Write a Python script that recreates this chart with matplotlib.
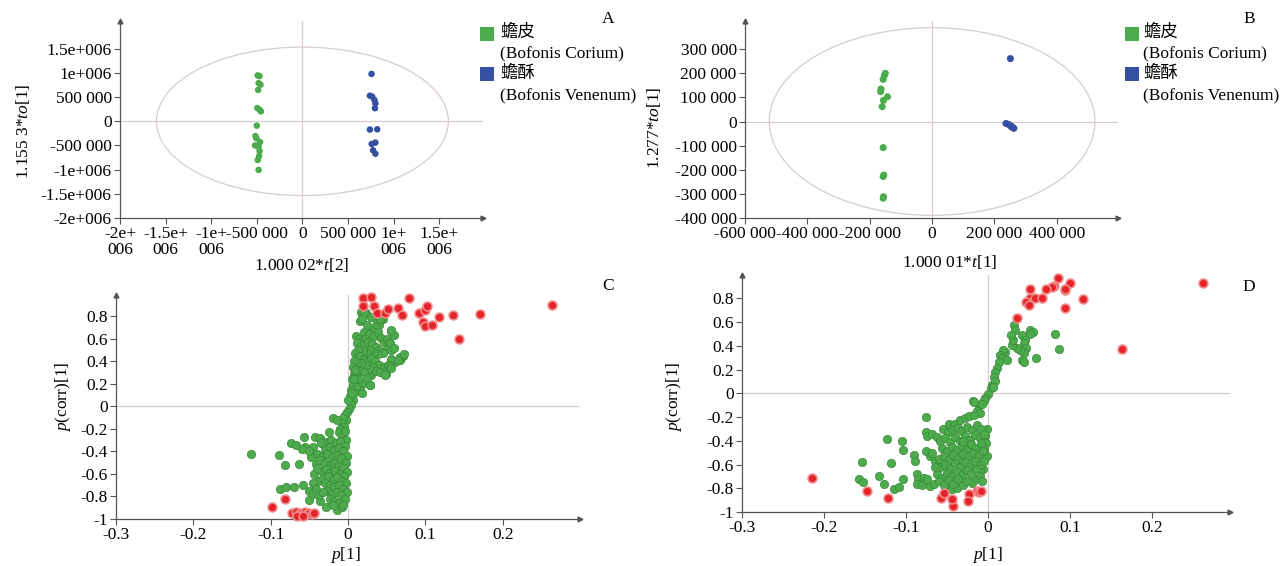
import matplotlib
matplotlib.use('Agg')
import matplotlib.pyplot as plt
from matplotlib.patches import Ellipse, Rectangle

plt.rcParams['font.family'] = ['Liberation Serif', 'Noto Sans CJK SC']
plt.rcParams['mathtext.fontset'] = 'custom'
plt.rcParams['mathtext.rm'] = 'Liberation Serif'
plt.rcParams['mathtext.it'] = 'Liberation Serif:italic'
plt.rcParams['font.size'] = 12.5

# --- DATA ---
# A: OPLS-DA score plot (t[2] vs to[1])
a_green_x = [-490000, -470000, -480000, -460000, -485000, -495000, -470000, -455000, -500000,
             -515000, -505000, -465000, -520000, -480000, -470000, -475000, -490000, -480000]
a_green_y = [950000, 935000, 790000, 760000, 650000, 275000, 240000, 205000, -90000,
             -305000, -350000, -430000, -500000, -525000, -615000, -720000, -800000, -1005000]
a_blue_x = [758000, 740000, 765000, 790000, 800000, 795000, 740000, 820000, 760000, 800000, 775000, 800000]
a_blue_y = [980000, 530000, 510000, 440000, 370000, 270000, -170000, -165000, -470000, -440000, -600000, -670000]

# B: score plot (t[1] vs to[1])
b_green_x = [-150000, -153000, -157000, -164000, -165000, -143000, -156000, -160000,
             -157000, -155000, -157000, -156000, -157000]
b_green_y = [200000, 192000, 175000, 135000, 124000, 103000, 88000, 62000,
             -108000, -222000, -228000, -312000, -318000]
b_blue_x = [251000, 237000, 245000, 252000, 258000, 262000, 255000]
b_blue_y = [261000, -8000, -12000, -18000, -24000, -28000, -22000]

# C: S-plot, p[1] vs p(corr)[1]
c_green = [
    (0.017, 0.84), (0.018, 0.82), (0.015, 0.76), (0.023, 0.83), (0.029, 0.79), (0.037, 0.75),
    (0.042, 0.78), (0.040, 0.72), (0.045, 0.77), (0.035, 0.70), (0.030, 0.68), (0.025, 0.72),
    (0.020, 0.66), (0.027, 0.64), (0.033, 0.62), (0.038, 0.66), (0.043, 0.61), (0.046, 0.57),
    (0.050, 0.60), (0.056, 0.67), (0.059, 0.63), (0.053, 0.56), (0.050, 0.51), (0.056, 0.50),
    (0.071, 0.45), (0.067, 0.41), (0.061, 0.39), (0.056, 0.42), (0.042, 0.30), (0.049, 0.29),
    (0.029, 0.28), (0.028, 0.19), (0.018, 0.20), (0.015, 0.14),
    (0.010, 0.62), (0.014, 0.60), (0.018, 0.58), (0.022, 0.60), (0.012, 0.56), (0.016, 0.53),
    (0.021, 0.55), (0.026, 0.57), (0.031, 0.55), (0.036, 0.53), (0.040, 0.50), (0.045, 0.47),
    (0.038, 0.46), (0.033, 0.48), (0.028, 0.50), (0.024, 0.47), (0.019, 0.49), (0.013, 0.50),
    (0.009, 0.47), (0.011, 0.43), (0.015, 0.45), (0.020, 0.42), (0.025, 0.40), (0.030, 0.43),
    (0.035, 0.40), (0.040, 0.37), (0.046, 0.35), (0.052, 0.37), (0.032, 0.35), (0.027, 0.33),
    (0.022, 0.36), (0.017, 0.38), (0.012, 0.38), (0.008, 0.40), (0.006, 0.35), (0.010, 0.33),
    (0.015, 0.31), (0.020, 0.30), (0.036, 0.31), (0.024, 0.25), (0.011, 0.27), (0.007, 0.29),
    (0.005, 0.24), (0.009, 0.22), (0.013, 0.24), (0.006, 0.19), (0.010, 0.17), (0.004, 0.14),
    (0.008, 0.12), (0.003, 0.09), (0.006, 0.06), (0.002, 0.04), (0.004, 0.01), (0.001, -0.02),
    (0.020, 0.84), (0.018, 0.77), (0.041, 0.77), (0.056, 0.68), (0.054, 0.56), (0.059, 0.52),
    (0.067, 0.44), (0.072, 0.46), (0.065, 0.41), (0.054, 0.36), (0.056, 0.34), (0.041, 0.30),
    (0.048, 0.28), (0.028, 0.19), (0.018, 0.12), (0.007, 0.24), (0.005, 0.12), (0.000, 0.06),
    (0.009, 0.32),
    (-0.002, -0.05), (-0.004, -0.08), (-0.003, -0.12), (-0.006, -0.10), (-0.008, -0.15),
    (-0.005, -0.18), (-0.010, -0.20), (-0.019, -0.10), (-0.015, -0.12), (-0.012, -0.23),
    (-0.008, -0.26), (-0.004, -0.22), (-0.003, -0.30), (-0.025, -0.23), (-0.043, -0.27),
    (-0.036, -0.28), (-0.057, -0.27), (-0.056, -0.36), (-0.059, -0.38), (-0.074, -0.33),
    (-0.068, -0.34), (-0.126, -0.42), (-0.089, -0.43), (-0.082, -0.52), (-0.064, -0.51),
    (-0.040, -0.42), (-0.041, -0.51), (-0.034, -0.57), (-0.039, -0.66), (-0.032, -0.64),
    (-0.088, -0.73), (-0.080, -0.72), (-0.070, -0.72), (-0.058, -0.70), (-0.050, -0.75),
    (-0.050, -0.83), (-0.036, -0.84), (-0.045, -0.78), (-0.028, -0.89), (-0.015, -0.92),
    (-0.008, -0.89),
    (-0.028, -0.32), (-0.022, -0.30), (-0.016, -0.33), (-0.010, -0.31), (-0.004, -0.35),
    (-0.030, -0.38), (-0.024, -0.36), (-0.018, -0.39), (-0.012, -0.37), (-0.006, -0.40),
    (-0.002, -0.44), (-0.033, -0.44), (-0.027, -0.42), (-0.021, -0.45), (-0.015, -0.43),
    (-0.009, -0.46), (-0.003, -0.50), (-0.036, -0.48), (-0.030, -0.50), (-0.024, -0.52),
    (-0.018, -0.50), (-0.012, -0.53), (-0.006, -0.55), (-0.002, -0.58), (-0.029, -0.56),
    (-0.023, -0.59), (-0.017, -0.57), (-0.011, -0.60), (-0.005, -0.62), (-0.026, -0.62),
    (-0.020, -0.65), (-0.014, -0.63), (-0.008, -0.66), (-0.003, -0.68), (-0.030, -0.68),
    (-0.024, -0.70), (-0.018, -0.72), (-0.012, -0.70), (-0.006, -0.73), (-0.002, -0.76),
    (-0.027, -0.75), (-0.021, -0.78), (-0.015, -0.76), (-0.009, -0.79), (-0.004, -0.82),
    (-0.024, -0.82), (-0.018, -0.84), (-0.012, -0.86), (-0.006, -0.88), (-0.020, -0.88),
    (-0.044, -0.60), (-0.046, -0.68), (-0.042, -0.73), (-0.038, -0.79), (-0.033, -0.76),
    (-0.048, -0.45), (-0.046, -0.36), (-0.050, -0.40), (-0.035, -0.33), (-0.040, -0.55),
]
c_red = [
    (0.019, 0.96), (0.029, 0.97), (0.079, 0.96), (0.019, 0.89), (0.033, 0.89), (0.037, 0.83),
    (0.048, 0.83), (0.052, 0.86), (0.064, 0.87), (0.069, 0.81), (0.092, 0.83), (0.0995, 0.85),
    (0.102, 0.89), (0.097, 0.75), (0.099, 0.71), (0.109, 0.72), (0.117, 0.79), (0.136, 0.81),
    (0.143, 0.60), (0.171, 0.82), (0.263, 0.90),
    (-0.099, -0.89), (-0.081, -0.82), (-0.072, -0.95), (-0.068, -0.94), (-0.064, -0.96),
    (-0.060, -0.95), (-0.056, -0.94), (-0.053, -0.96), (-0.050, -0.95), (-0.047, -0.96),
    (-0.044, -0.95), (-0.066, -0.97), (-0.058, -0.97),
]

# D: S-plot, p[1] vs p(corr)[1]
d_green = [
    (0.0815, 0.495), (0.0864, 0.369), (0.0587, 0.30), (0.052, 0.53), (0.055, 0.517), (0.051, 0.50),
    (0.0315, 0.573), (0.0335, 0.53), (0.0417, 0.49), (0.0457, 0.447), (0.044, 0.42), (0.047, 0.377),
    (0.044, 0.335), (0.042, 0.279), (0.044, 0.265), (0.0396, 0.363), (0.0356, 0.383), (0.0295, 0.405),
    (0.0307, 0.447), (0.028, 0.49), (0.0213, 0.349), (0.019, 0.363), (0.015, 0.32), (0.0173, 0.293),
    (0.0234, 0.279), (0.0132, 0.265), (0.0112, 0.209), (0.0092, 0.181), (0.0071, 0.139), (0.005, 0.069),
    (0.009, 0.10), (0.0034, 0.045), (0.006, 0.053), (0.0, -0.01), (-0.004, -0.04), (-0.006, -0.07),
    (-0.011, -0.095), (-0.018, -0.067), (-0.005, -0.059), (-0.0072, -0.087), (-0.0173, -0.075),
    (-0.0133, -0.151), (-0.0092, -0.165),
    (-0.153, -0.577), (-0.157, -0.725), (-0.152, -0.747), (-0.133, -0.697), (-0.127, -0.767),
    (-0.115, -0.809), (-0.108, -0.787), (-0.103, -0.72), (-0.118, -0.585), (-0.123, -0.389),
    (-0.105, -0.403), (-0.103, -0.481), (-0.0905, -0.523), (-0.0885, -0.571), (-0.0864, -0.683),
    (-0.0856, -0.725), (-0.0864, -0.767), (-0.075, -0.199), (-0.075, -0.327), (-0.0742, -0.361),
    (-0.068, -0.347), (-0.062, -0.367), (-0.075, -0.487), (-0.0702, -0.529), (-0.064, -0.571),
    (-0.0783, -0.711), (-0.0803, -0.775), (-0.070, -0.781), (-0.0742, -0.725), (-0.048, -0.263),
    (-0.044, -0.291), (-0.040, -0.263), (-0.0336, -0.221), (-0.0275, -0.207), (-0.0234, -0.193),
    (-0.0173, -0.179), (-0.001, -0.305), (-0.003, -0.361), (-0.0019, -0.417), (-0.005, -0.473),
    (-0.001, -0.529), (-0.006, -0.641), (-0.0092, -0.655), (-0.0498, -0.809), (-0.044, -0.803),
    (-0.038, -0.795), (-0.030, -0.775), (-0.0193, -0.753), (-0.0133, -0.725),
    (-0.055, -0.30), (-0.049, -0.33), (-0.043, -0.31), (-0.037, -0.29), (-0.031, -0.32),
    (-0.025, -0.28), (-0.019, -0.31), (-0.013, -0.27), (-0.008, -0.30), (-0.058, -0.40),
    (-0.052, -0.38), (-0.046, -0.41), (-0.040, -0.37), (-0.034, -0.40), (-0.028, -0.36),
    (-0.022, -0.39), (-0.016, -0.35), (-0.010, -0.38), (-0.005, -0.34), (-0.056, -0.46),
    (-0.050, -0.49), (-0.044, -0.45), (-0.038, -0.48), (-0.032, -0.44), (-0.026, -0.47),
    (-0.020, -0.43), (-0.014, -0.46), (-0.008, -0.42), (-0.060, -0.55), (-0.054, -0.53),
    (-0.048, -0.56), (-0.042, -0.52), (-0.036, -0.55), (-0.030, -0.51), (-0.024, -0.54),
    (-0.018, -0.50), (-0.012, -0.53), (-0.006, -0.49), (-0.058, -0.62), (-0.052, -0.60),
    (-0.046, -0.63), (-0.040, -0.59), (-0.034, -0.62), (-0.028, -0.58), (-0.022, -0.61),
    (-0.016, -0.57), (-0.010, -0.60), (-0.005, -0.57), (-0.062, -0.68), (-0.056, -0.71),
    (-0.050, -0.67), (-0.044, -0.70), (-0.038, -0.66), (-0.032, -0.69), (-0.026, -0.65),
    (-0.020, -0.68), (-0.014, -0.64), (-0.066, -0.76), (-0.060, -0.74), (-0.054, -0.77),
    (-0.048, -0.73), (-0.042, -0.76), (-0.036, -0.72), (-0.025, -0.74), (-0.009, -0.70),
    (-0.007, -0.74), (-0.064, -0.62), (-0.068, -0.50), (-0.030, -0.40),
]
d_red = [
    (0.263, 0.93), (0.164, 0.37), (0.1165, 0.79), (0.094, 0.72), (0.094, 0.87), (0.100, 0.93),
    (0.086, 0.97), (0.081, 0.90), (0.078, 0.895), (0.071, 0.88), (0.051, 0.875), (0.0945, 0.875),
    (0.052, 0.80), (0.046, 0.77), (0.050, 0.74), (0.058, 0.80), (0.066, 0.80), (0.0356, 0.635),
    (-0.215, -0.71), (-0.148, -0.82), (-0.122, -0.88), (-0.057, -0.88), (-0.054, -0.84),
    (-0.043, -0.95), (-0.044, -0.89), (-0.023, -0.85), (-0.024, -0.91), (-0.0136, -0.82),
    (-0.011, -0.83), (-0.008, -0.82),
]

# tick labels
a_xticks = [-2e6, -1.5e6, -1e6, -5e5, 0, 5e5, 1e6, 1.5e6]
a_xlabels = ['-2e+\n006', '-1.5e+\n006', '-1e+\n006', '-500 000', '0', '500 000', '1e+\n006', '1.5e+\n006']
a_yticks = [1.5e6, 1e6, 5e5, 0, -5e5, -1e6, -1.5e6, -2e6]
a_ylabels = ['1.5e+006', '1e+006', '500 000', '0', '-500 000', '-1e+006', '-1.5e+006', '-2e+006']
b_xticks = [-6e5, -4e5, -2e5, 0, 2e5, 4e5]
b_xlabels = ['-600 000', '-400 000', '-200 000', '0', '200 000', '400 000']
b_yticks = [3e5, 2e5, 1e5, 0, -1e5, -2e5, -3e5, -4e5]
b_ylabels = ['300 000', '200 000', '100 000', '0', '-100 000', '-200 000', '-300 000', '-400 000']
s_xticks = [-0.3, -0.2, -0.1, 0, 0.1, 0.2]
s_xlabels = ['-0.3', '-0.2', '-0.1', '0', '0.1', '0.2']
s_yticks = [0.8, 0.6, 0.4, 0.2, 0, -0.2, -0.4, -0.6, -0.8, -1]
s_ylabels = ['0.8', '0.6', '0.4', '0.2', '0', '-0.2', '-0.4', '-0.6', '-0.8', '-1']

GREEN = '#4cab4c'
BLUE = '#3450a3'
RED = '#e6222a'
AXC = '#555555'
GUIDE = '#d9cccc'

W, H = 1284, 566
fig = plt.figure(figsize=(W / 100, H / 100), dpi=100)


def px_axes(l, t, r, b):
    return fig.add_axes([l / W, 1 - b / H, (r - l) / W, (b - t) / H])


def ftxt(x, y, s, **kw):
    kw.setdefault('ha', 'center')
    kw.setdefault('va', 'center')
    fig.text(x / W, 1 - y / H, s, **kw)


def style(ax, xt, xl, yt, yl):
    for s in ['top', 'right']:
        ax.spines[s].set_visible(False)
    for s in ['left', 'bottom']:
        ax.spines[s].set_color(AXC)
        ax.spines[s].set_linewidth(0.9)
    ax.set_xticks(xt)
    ax.set_xticklabels(xl, linespacing=1.0)
    ax.set_yticks(yt)
    ax.set_yticklabels(yl)
    ax.tick_params(length=4, width=0.8, color=AXC, pad=2, labelsize=12.5)
    ax.plot(0, 1, '^', transform=ax.transAxes, clip_on=False, color=AXC, ms=3.5)
    ax.plot(1, 0, '>', transform=ax.transAxes, clip_on=False, color=AXC, ms=3.5)
    ax.axhline(0, color=GUIDE, lw=0.9, zorder=0)
    ax.axvline(0, color=GUIDE, lw=0.9, zorder=0)


# --- A ---
axA = px_axes(120, 21, 483, 218)
axA.set_xlim(-2e6, 1.98e6)
axA.set_ylim(-2e6, 2.075e6)
style(axA, a_xticks, a_xlabels, a_yticks, a_ylabels)
axA.add_patch(Ellipse((0, 0), 3.2e6, 3.07e6, fill=False, ec=GUIDE, lw=0.9))
axA.scatter(a_green_x, a_green_y, s=22, c=GREEN, edgecolors='none', zorder=3)
axA.scatter(a_blue_x, a_blue_y, s=22, c=BLUE, edgecolors='none', zorder=3)

# --- B ---
axB = px_axes(745, 21, 1118, 218)
axB.set_xlim(-6e5, 5.96e5)
axB.set_ylim(-4e5, 4.17e5)
style(axB, b_xticks, b_xlabels, b_yticks, b_ylabels)
axB.add_patch(Ellipse((0, 0), 1.044e6, 7.78e5, fill=False, ec=GUIDE, lw=0.9))
axB.scatter(b_green_x, b_green_y, s=26, c=GREEN, edgecolors='none', zorder=3)
axB.scatter(b_blue_x, b_blue_y, s=26, c=BLUE, edgecolors='none', zorder=3)

# --- C ---
axC = px_axes(116, 295, 580, 519)
axC.set_xlim(-0.3, 0.2997)
axC.set_ylim(-1, 0.987)
style(axC, s_xticks, s_xlabels, s_yticks, s_ylabels)
axC.scatter([p[0] for p in c_green], [p[1] for p in c_green], s=36, c=GREEN,
            edgecolors='#3a8a3a', linewidths=0.5, zorder=3, clip_on=False)
axC.scatter([p[0] for p in c_red], [p[1] for p in c_red], s=40, c=RED,
            edgecolors='#ee8a8a', linewidths=1.2, zorder=4, clip_on=False)

# --- D ---
axD = px_axes(742, 275, 1230, 512)
axD.set_xlim(-0.3, 0.2955)
axD.set_ylim(-1, 0.996)
style(axD, s_xticks, s_xlabels, s_yticks, s_ylabels)
axD.scatter([p[0] for p in d_green], [p[1] for p in d_green], s=36, c=GREEN,
            edgecolors='#3a8a3a', linewidths=0.5, zorder=3, clip_on=False)
axD.scatter([p[0] for p in d_red], [p[1] for p in d_red], s=40, c=RED,
            edgecolors='#ee8a8a', linewidths=1.2, zorder=4, clip_on=False)

# axis labels
ftxt(23, 131, r'1.155 3*$\mathit{to}$[1]', rotation=90)
ftxt(654, 128, r'1.277*$\mathit{to}$[1]', rotation=90)
ftxt(302, 265, r'1.000 02*$\mathit{t}$[2]')
ftxt(950, 262, r'1.000 01*$\mathit{t}$[1]')
ftxt(63, 397, r'$\mathit{p}$(corr)[1]', rotation=90)
ftxt(674, 397, r'$\mathit{p}$(corr)[1]', rotation=90)
ftxt(345, 555, r'$\mathit{p}$[1]')
ftxt(987, 555, r'$\mathit{p}$[1]')

# panel letters
ftxt(608, 19, 'A')
ftxt(1249, 19, 'B')
ftxt(608, 286, 'C')
ftxt(1249, 287, 'D')

# legends
for sx, tx in [(480, 500), (1125, 1143)]:
    fig.add_artist(Rectangle((sx / W, 1 - 41 / H), 14 / W, 14 / H, transform=fig.transFigure,
                             fc=GREEN, ec='none'))
    fig.add_artist(Rectangle((sx / W, 1 - 81 / H), 14 / W, 14 / H, transform=fig.transFigure,
                             fc=BLUE, ec='none'))
    ftxt(tx, 33, '蟾皮', ha='left')
    ftxt(tx, 54, '(Bofonis Corium)', ha='left')
    ftxt(tx, 74, '蟾酥', ha='left')
    ftxt(tx, 96, '(Bofonis Venenum)', ha='left')

fig.savefig('out.png', dpi=100)
